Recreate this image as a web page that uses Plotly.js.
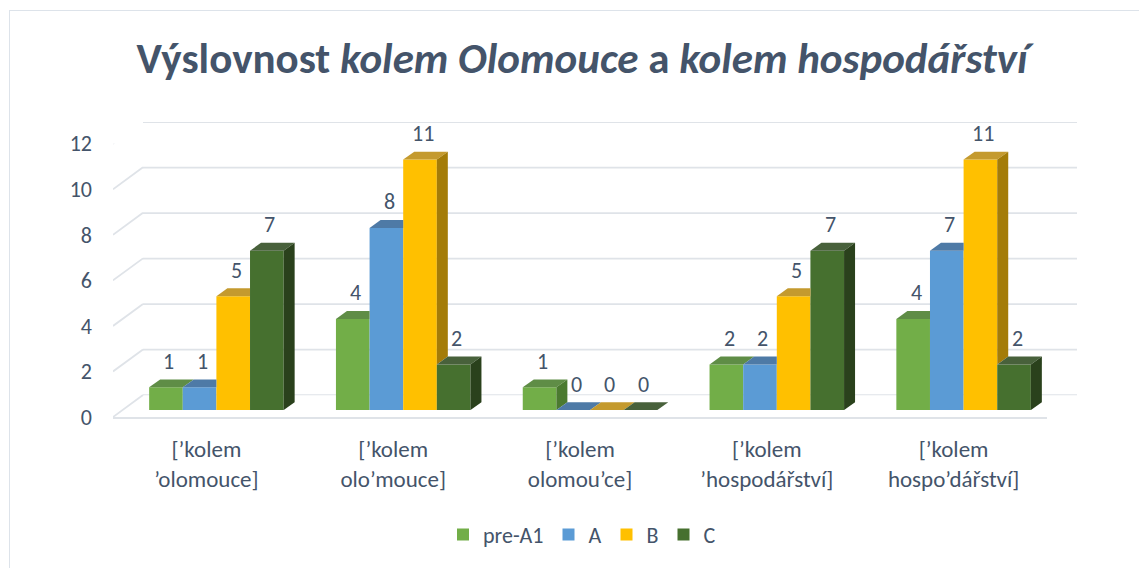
<!DOCTYPE html>
<html>
<head>
<meta charset="utf-8">
<script src="https://cdn.plot.ly/plotly-3.0.1.min.js"></script>
<style>
  html, body { margin: 0; padding: 0; background: #ffffff; }
  #wrap { position: relative; width: 1139px; height: 568px; overflow: hidden; }
  #chart { width: 1139px; height: 568px; }
  #frame { position: absolute; left: 9px; top: 10px; width: 1200px; height: 700px;
           border: 1.5px solid #dde3ea; pointer-events: none; }
</style>
</head>
<body>
<div id="wrap"><div id="chart"></div><div id="frame"></div></div>
<script>
// ---- data ----
const categories = ["[’kolem<br>’olomouce]", "[’kolem<br>olo’mouce]", "[’kolem<br>olomou’ce]", "[’kolem<br>’hospodářství]", "[’kolem<br>hospo’dářství]"];
const seriesNames = ["pre-A1", "A", "B", "C"];
const preA1 = [1, 4, 1, 2, 4];
const levelA = [1, 8, 0, 2, 7];
const levelB = [5, 11, 0, 5, 11];
const levelC = [7, 2, 0, 7, 2];
const yTicks = [0, 2, 4, 6, 8, 10, 12];
const titleText = "<b>Výslovnost <i>kolem Olomouce</i> a <i>kolem hospodářství</i></b>";

// ---- styles ----
const frontColors = ["#72AE48", "#5B9BD5", "#FFC000", "#46702F"];
const topColors   = ["#5F8D46", "#4E7AA6", "#C49A2E", "#48613B"];
const sideColors  = ["#4B7A30", "#3F6E9D", "#A47C08", "#2A411C"];
const txt = "#44546A";
const fontFam = "Carlito, Lato, 'Open Sans', sans-serif";
const gridCol = "#dfe3e8";

const W = 1139, H = 568;
const M = {l: 113, r: 62, t: 122, b: 148};
const PW = W - M.l - M.r, PH = H - M.t - M.b;   // 964 x 298
const frontW = 934, frontH = 276;
const backDX = 30, backDY = 22;
const barDX = 10, barDY = 7;
const pxPerCat = frontW / 5, pxPerUnit = frontH / 12;
const depthX = 11 / pxPerCat, depthY = 8 / pxPerUnit;
const bw = 0.18, groupStart = -0.36;

const values = [preA1, levelA, levelB, levelC];
const xIdx = categories.map((c, i) => i);

const traces = values.map((vals, s) => ({
  type: "bar", name: seriesNames[s], x: xIdx, y: vals,
  xaxis: "x3", yaxis: "y3",
  width: bw, offset: groupStart + s * bw,
  marker: {color: frontColors[s], line: {width: 0}},
  hoverinfo: "y"
}));

const shapes = [];
const annotations = [];

// back wall gridlines and side-wall diagonals
yTicks.forEach(t => {
  shapes.push({type: "line", xref: "paper", yref: "y2", x0: backDX / PW, x1: 1, y0: t, y1: t,
               line: {color: gridCol, width: 1.8}, layer: "below"});
  shapes.push({type: "line", xref: "x", yref: "y",
               xsizemode: "pixel", xanchor: -0.5, x0: 0, x1: backDX,
               ysizemode: "pixel", yanchor: t, y0: 0, y1: backDY,
               line: {color: gridCol, width: 1.8}, layer: "below"});
});

// 3D top and side faces computed from the data
xIdx.forEach(i => {
  for (let s = 0; s < 4; s++) {
    const v = values[s][i];
    const l = i + groupStart + s * bw, r = l + bw;
    const next = s < 3 ? values[s + 1][i] : null;
    let topPath;
    if (next !== null && next > v) {
      topPath = `M${l},${v} L${r},${v} L${r},${v + depthY} L${l + depthX},${v + depthY} Z`;
    } else {
      topPath = `M${l},${v} L${r},${v} L${r + depthX},${v + depthY} L${l + depthX},${v + depthY} Z`;
    }
    shapes.push({type: "path", xref: "x3", yref: "y3", path: topPath,
                 fillcolor: topColors[s], line: {width: 0}, layer: "above"});
    const h = next !== null ? next : 0;
    if (v > h) {
      const sidePath = `M${r},${h} L${r + depthX},${h + depthY} L${r + depthX},${v + depthY} L${r},${v} Z`;
      shapes.push({type: "path", xref: "x3", yref: "y3", path: sidePath,
                   fillcolor: sideColors[s], line: {width: 0}, layer: "above"});
    }
    annotations.push({xref: "x3", yref: "y3", x: l + bw / 2, y: v, text: String(v),
                      showarrow: false, yanchor: "middle", yshift: 26, xshift: 3,
                      font: {family: fontFam, size: 22, color: txt}});
  }
});

const layout = {
  width: W, height: H,
  margin: M,
  paper_bgcolor: "#ffffff", plot_bgcolor: "rgba(0,0,0,0)",
  font: {family: fontFam, color: txt},
  title: {text: titleText, font: {family: fontFam, size: 43, color: txt},
          x: 582 / W, xanchor: "center", xref: "container",
          y: 1 - 58 / H, yanchor: "middle", yref: "container"},
  showlegend: true,
  legend: {orientation: "h", x: (582 - M.l) / PW, xanchor: "center",
           y: (M.t + PH - 539) / PH, yanchor: "middle",
           font: {family: fontFam, size: 22, color: txt}, itemwidth: 30},
  barmode: "overlay",
  xaxis: {domain: [0, frontW / PW], range: [-0.5, 4.5], anchor: "y",
          tickvals: xIdx, ticktext: categories, showgrid: false, zeroline: false,
          showline: true, linecolor: gridCol, linewidth: 2, ticks: "",
          ticklabelstandoff: 10,
          tickfont: {family: fontFam, size: 23, color: txt}, fixedrange: true},
  yaxis: {domain: [0, frontH / PH], range: [0, 12], anchor: "x",
          tickvals: yTicks, showgrid: false, zeroline: false, showline: false,
          ticks: "", ticklabelstandoff: 20,
          tickfont: {family: fontFam, size: 22, color: txt}, fixedrange: true},
  xaxis2: {domain: [backDX / PW, 1], range: [-0.5, 4.5], anchor: "y2",
           visible: false, fixedrange: true},
  yaxis2: {domain: [backDY / PH, 1], range: [0, 12], anchor: "x2",
           visible: false, fixedrange: true},
  xaxis3: {domain: [barDX / PW, (frontW + barDX) / PW], range: [-0.5, 4.5], anchor: "y3",
           visible: false, fixedrange: true},
  yaxis3: {domain: [barDY / PH, (frontH + barDY) / PH], range: [0, 12], anchor: "x3",
           visible: false, fixedrange: true},
  shapes: shapes,
  annotations: annotations
};

Plotly.newPlot("chart", traces, layout, {displayModeBar: false, staticPlot: true});
</script>
</body>
</html>
